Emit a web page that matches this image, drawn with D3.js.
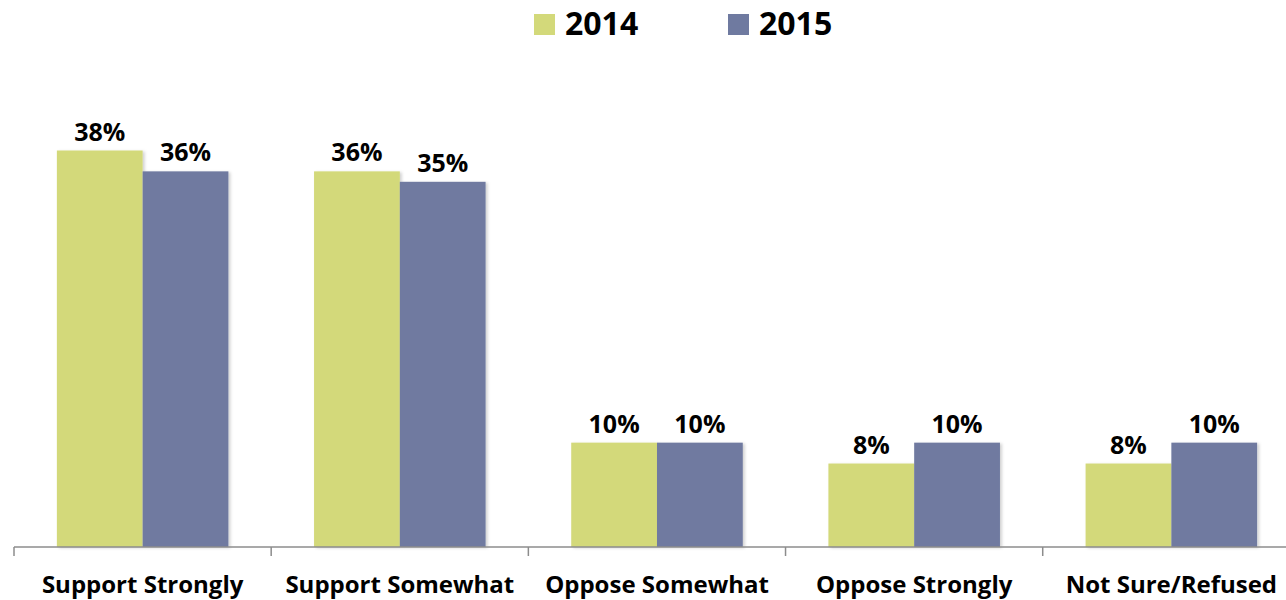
<!DOCTYPE html>
<html>
<head>
<meta charset="utf-8">
<script src="https://cdn.jsdelivr.net/npm/d3@7"></script>
<style>
  html, body { margin: 0; padding: 0; background: #fff; }
  svg { display: block; font-family: "Open Sans", "DejaVu Sans", sans-serif; font-weight: 700; }
</style>
</head>
<body>
<svg id="chart" width="1286" height="600"></svg>
<script>
// Survey responses by year
const categories = ["Support Strongly", "Support Somewhat", "Oppose Somewhat", "Oppose Strongly", "Not Sure/Refused"];
const years = ["2014", "2015"];
const values2014 = [38, 36, 10, 8, 8];
const values2015 = [36, 35, 10, 10, 10];
const seriesValues = [values2014, values2015];
const colors = ["#D3D97A", "#6F7AA0"];

const svg = d3.select("#chart");
const baseline = 547;

const x = d3.scaleBand()
  .domain(categories)
  .range([14, 1300])
  .paddingInner(0.333)
  .paddingOuter(0.1667);

const xSub = d3.scaleBand()
  .domain(years)
  .range([0, x.bandwidth()]);

const y = d3.scaleLinear()
  .domain([0, 38])
  .range([baseline, 150.5]);

// soft shadow on bars
const defs = svg.append("defs");
const f = defs.append("filter").attr("id", "shadow")
  .attr("x", "-10%").attr("y", "-10%").attr("width", "130%").attr("height", "120%");
f.append("feDropShadow").attr("dx", 2).attr("dy", 1).attr("stdDeviation", 1.6)
  .attr("flood-color", "#000").attr("flood-opacity", 0.18);

const rows = categories.map((c, i) => years.map((yr, j) => ({ cat: c, year: yr, value: seriesValues[j][i], color: colors[j] })));

const groups = svg.append("g").selectAll("g")
  .data(rows)
  .join("g")
  .attr("transform", (d, i) => `translate(${x(categories[i])},0)`);

groups.selectAll("rect")
  .data(d => d)
  .join("rect")
  .attr("x", d => xSub(d.year))
  .attr("width", xSub.bandwidth())
  .attr("y", d => y(d.value))
  .attr("height", d => baseline - y(d.value))
  .attr("fill", d => d.color)
  .attr("filter", "url(#shadow)");

groups.selectAll("text")
  .data(d => d)
  .join("text")
  .attr("x", d => xSub(d.year) + xSub.bandwidth() / 2)
  .attr("y", d => y(d.value) - 10)
  .attr("text-anchor", "middle")
  .attr("font-size", 25)
  .attr("fill", "#000")
  .text(d => d.value + "%");

// category axis with ticks between groups
const axisG = svg.append("g").attr("transform", `translate(0,${baseline})`);
axisG.append("line")
  .attr("x1", 14).attr("x2", 1300)
  .attr("stroke", "#8c8c8c").attr("stroke-width", 1.5);
const step = x.step();
const tickXs = d3.range(categories.length + 1).map(i => 14 + i * step);
axisG.selectAll("line.tick")
  .data(tickXs)
  .join("line")
  .attr("class", "tick")
  .attr("x1", d => d).attr("x2", d => d)
  .attr("y1", 0).attr("y2", 9)
  .attr("stroke", "#8c8c8c").attr("stroke-width", 1.5);

axisG.selectAll("text")
  .data(categories)
  .join("text")
  .attr("x", d => x(d) + x.bandwidth() / 2)
  .attr("y", 46)
  .attr("text-anchor", "middle")
  .attr("font-size", 24)
  .attr("fill", "#000")
  .text(d => d);

// legend
const legendX = [534, 728];
const legend = svg.append("g").selectAll("g")
  .data(years)
  .join("g")
  .attr("transform", (d, i) => `translate(${legendX[i]},14)`);
legend.append("rect")
  .attr("width", 21).attr("height", 21)
  .attr("fill", (d, i) => colors[i]);
legend.append("text")
  .attr("x", 31).attr("y", 21)
  .attr("font-size", 32)
  .attr("fill", "#000")
  .text(d => d);
</script>
</body>
</html>
